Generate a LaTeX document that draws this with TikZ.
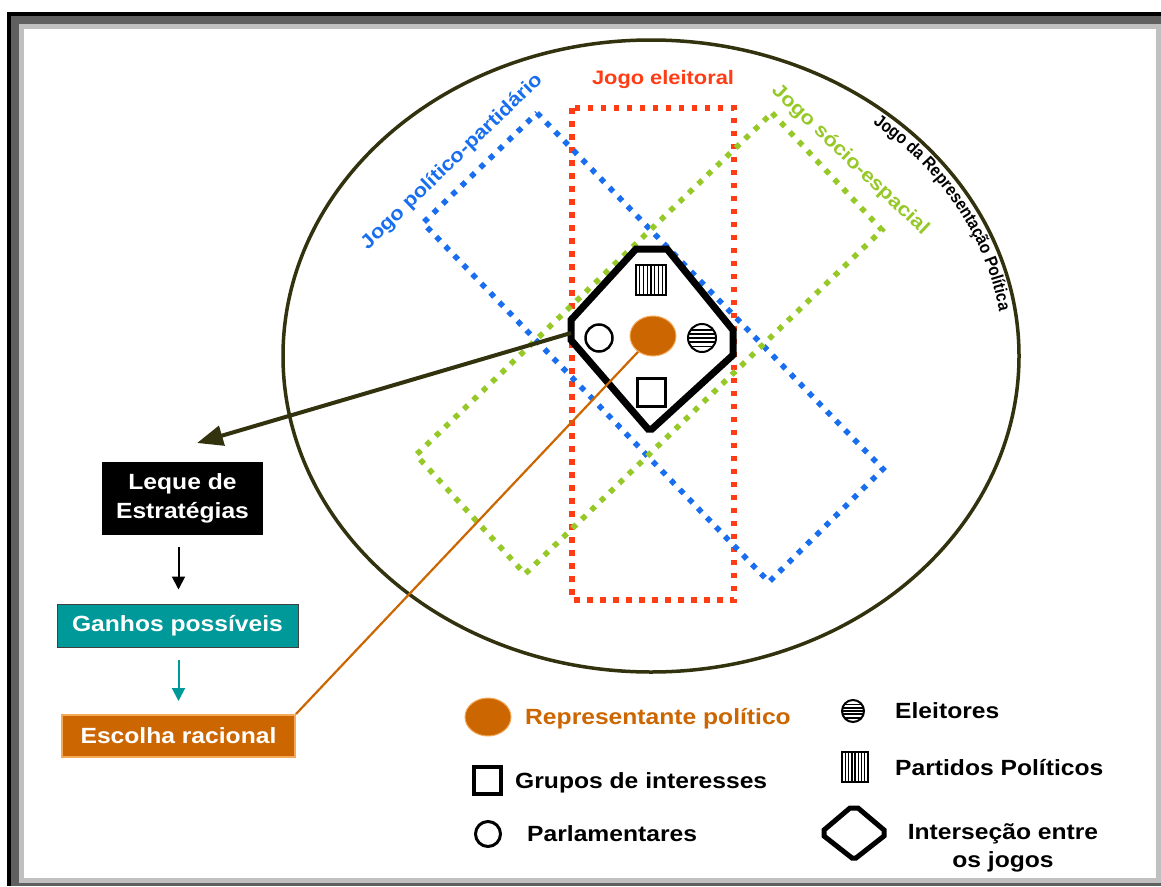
\documentclass[tikz,border=0pt]{standalone}
\usepackage{fontspec}
\setmainfont{Liberation Sans}
\newfontfamily\wf{Liberation Sans}[FakeStretch=1.12]
\newfontfamily\nf{Liberation Sans}[FakeStretch=0.88]
\usetikzlibrary{arrows.meta,decorations.text,calc,shapes.geometric}
\definecolor{ellcol}{RGB}{50,50,15}
\definecolor{redd}{RGB}{255,60,20}
\definecolor{bluee}{RGB}{25,110,240}
\definecolor{greenn}{RGB}{150,200,40}
\definecolor{orangee}{RGB}{204,102,0}
\definecolor{orangelt}{RGB}{245,170,90}
\definecolor{teall}{RGB}{0,153,153}
\definecolor{dgray}{RGB}{96,96,96}
\definecolor{lgray}{RGB}{192,192,192}
\tikzset{
  dotline/.style={line width=5.5pt, dash pattern=on 5.5pt off 7.5pt},
  lbl/.style={font=\wf\bfseries\fontsize{19.5}{23}\selectfont, inner sep=0pt},
  sbox/.style={font=\wf\bfseries\fontsize{22}{29}\selectfont, text=white, inner sep=0pt, align=center},
  lgtext/.style={font=\wf\bfseries\fontsize{22}{28}\selectfont, inner sep=0pt},
  eleitpic/.pic={
    \draw[line width=2pt] (0,0) circle[radius=#1];
    \clip (0,0) circle[radius=#1];
    \foreach \k in {-0.6,-0.3,0,0.3,0.6} \draw[line width=1.8pt] (-#1,\k*#1) -- (#1,\k*#1);
  },
  partpic/.pic={
    \draw[line width=2pt] (-#1,-#1) rectangle (#1,#1);
    \foreach \k in {-0.75,-0.5,...,0.8} \draw[line width=1.4pt] (\k*#1,-#1) -- (\k*#1,#1);
  },
}
\begin{document}
\begin{tikzpicture}[x=1pt,y=-1pt]
\useasboundingbox (0,0) rectangle (1161,886);
% frame
\fill[white] (0,0) rectangle (1161,886);
\fill[black] (7,12) rectangle (1161,886);
\fill[dgray] (11,16) rectangle (1161,886);
\fill[lgray] (19,24) rectangle (1161,883);
\fill[white] (24,29) rectangle (1156,878);
% main ellipse
\draw[ellcol, line width=3.5pt] (651,356) ellipse [x radius=368, y radius=316];
\path[decorate, decoration={text along path, text align=center,
   text={|\nf\bfseries\fontsize{17.5}{19}\selectfont|Jogo da Representação Política}}]
   (651,356) ++(-55:352 and 300) arc[start angle=-55, end angle=-4, x radius=352, y radius=300];
% game rectangles
\draw[redd, dotline] (572,108) rectangle (734,600);
\draw[bluee, dotline] (537,113) -- (883,469) -- (769,582) -- (423,223) -- cycle;
\draw[greenn, dotline] (772,113) -- (882,230) -- (525,574) -- (416,455) -- cycle;
% labels
\node[lbl, text=redd] (elei) at (663,80) {Jogo eleitoral};
\node[lbl, text=bluee, rotate=44] (polit) at (452,162) {Jogo político-partidário};
\node[lbl, text=greenn, rotate=-43.5] (socio) at (850,160) {Jogo sócio-espacial};
% intersection
\draw[line width=7pt, fill=white] (636,249) -- (667,249) -- (733,330) -- (733,355) -- (652,429) -- (648,429) -- (571,340) -- (571,320) -- cycle;
\coordinate (octL) at (571,333);
\pic at (651,280) {partpic=15};
\pic at (702,338) {eleitpic=14};
\node[circle, draw, line width=2.5pt, minimum size=27pt, inner sep=0pt] (parl) at (599,338) {};
\node[rectangle, draw, line width=3pt, minimum size=28pt, inner sep=0pt] (grup) at (651,392) {};
\node[ellipse, fill=orangee, draw=orangelt, line width=1pt, minimum width=46pt, minimum height=40pt, inner sep=0pt] (rep) at (653,336) {};
% left boxes
\node[sbox, fill=black, minimum width=161pt, minimum height=73pt] (Leque) at (182.5,498.5) {Leque de\\Estratégias};
\node[sbox, fill=teall, draw=black!75, line width=1pt, minimum width=241pt, minimum height=43pt] (Ganhos) at (177.5,625.5) {Ganhos possíveis};
\node[sbox, fill=orangee, draw=orangelt, line width=2pt, minimum width=233pt, minimum height=42pt] (Escolha) at (178.5,736) {Escolha racional};
% connectors
\coordinate (tip) at (197,443);
\draw[ellcol, line width=4pt, -{Triangle[length=26pt,width=20pt]}] (octL) -- (tip);
\draw[orangee, line width=2.2pt] (rep) -- (Escolha.north east);
\draw[black, line width=2pt, -{Triangle[length=13pt,width=13pt]}, shorten <=12pt, shorten >=14pt] (Leque.south -| Escolha.north) -- (Ganhos.north -| Escolha.north);
\draw[teall, line width=2pt, -{Triangle[length=13pt,width=13pt]}, shorten <=12pt, shorten >=13pt] (Ganhos.south -| Escolha.north) -- (Escolha.north);
% legend
\node[ellipse, fill=orangee, draw=orangelt, line width=1pt, minimum width=46pt, minimum height=38pt, inner sep=0pt] (repl) at (488,717) {};
\node[lgtext, text=orangee, anchor=base west] (trep) at (525,724) {Representante político};
\node[rectangle, draw, line width=4pt, minimum size=27pt, inner sep=0pt] (grupl) at (487,780) {};
\node[lgtext, anchor=base west] (tgrup) at (515,788) {Grupos de interesses};
\node[circle, draw, line width=3pt, minimum size=25pt, inner sep=0pt] (parll) at (488,834) {};
\node[lgtext, anchor=base west] (tparl) at (527,841) {Parlamentares};
\pic at (853,711) {eleitpic=11};
\node[lgtext, anchor=base west] (teleit) at (895,718) {Eleitores};
\pic[xscale=0.85] at (855,767) {partpic=15};
\node[lgtext, anchor=base west] (tpart) at (895,775) {Partidos Políticos};
\draw[line width=5pt] (850,808) -- (858,808) -- (884,830) -- (884,836) -- (856,858) -- (852,858) -- (824,836) -- (824,830) -- cycle;
\node[lgtext, align=center] (tinter) at (1003,848) {Interseção entre\\os jogos};
\end{tikzpicture}
\end{document}
